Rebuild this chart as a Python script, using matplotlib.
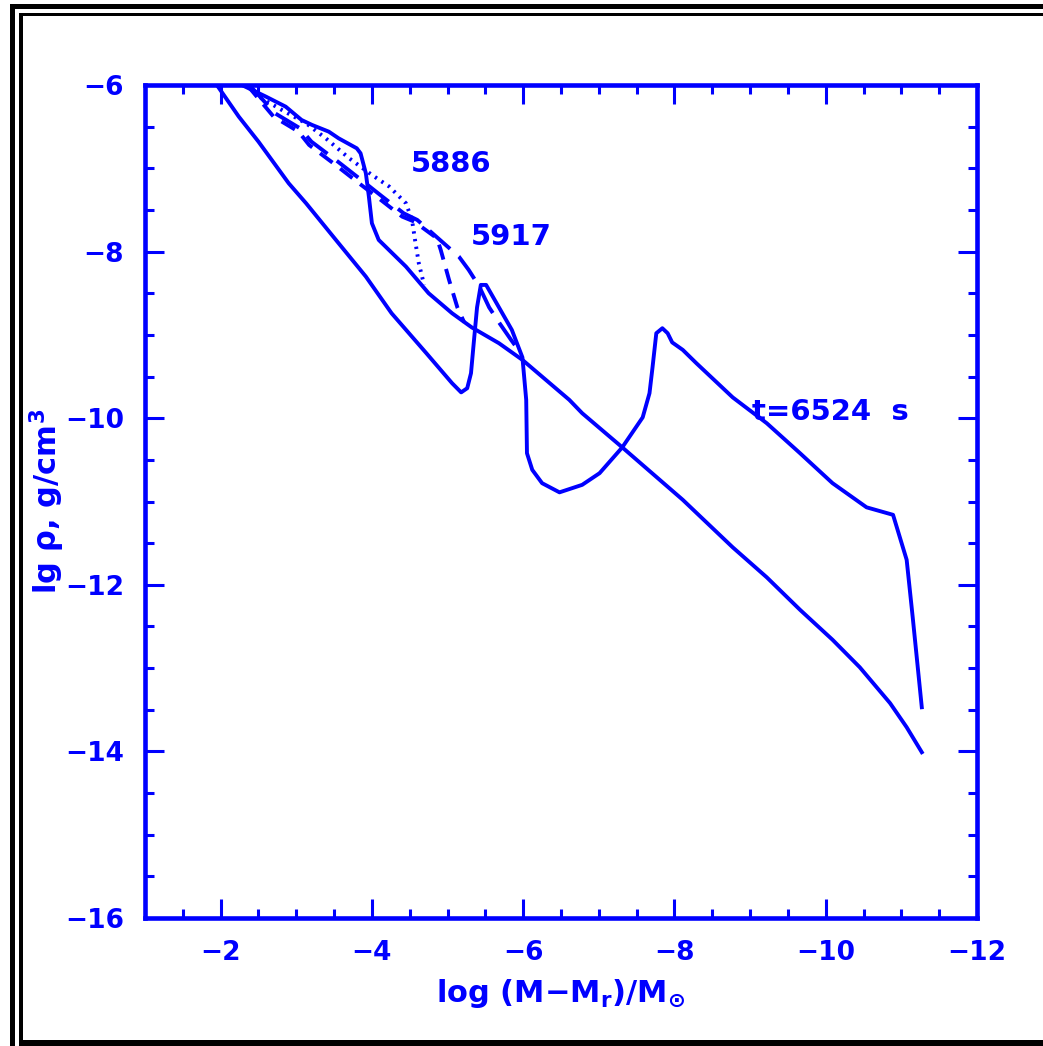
import matplotlib
matplotlib.use("Agg")
import matplotlib.pyplot as plt
from matplotlib.patches import Rectangle
from matplotlib.ticker import MultipleLocator

# colour / font
blue = (0, 0, 1)
plt.rcParams['font.family'] = 'DejaVu Sans'
plt.rcParams['font.weight'] = 'bold'
plt.rcParams['mathtext.default'] = 'bf'

# upper solid profile (bump near -4, then long straight fall)
s1_x = [-2.28, -2.60, -2.86, -3.07, -3.21, -3.43, -3.56, -3.80, -3.85, -3.92, -3.96, -4.00,
        -4.09, -4.45, -4.75, -5.06, -5.32, -5.68, -5.99, -6.61, -6.78, -7.31, -8.11, -8.77,
        -9.22, -9.66, -10.09, -10.45, -10.85, -11.07, -11.27]
s1_y = [-6.00, -6.14, -6.26, -6.42, -6.48, -6.56, -6.64, -6.76, -6.82, -7.06, -7.34, -7.66,
        -7.86, -8.18, -8.50, -8.74, -8.91, -9.10, -9.30, -9.78, -9.94, -10.35, -10.98, -11.55,
        -11.91, -12.30, -12.66, -12.99, -13.42, -13.71, -14.01]

# t = 6524 s profile
s2_x = [-1.95, -2.24, -2.50, -2.90, -3.13, -3.56, -3.92, -4.26, -4.72, -5.06, -5.18, -5.26,
        -5.31, -5.35, -5.39, -5.44, -5.51, -5.68, -5.85, -5.99, -6.04, -6.05, -6.12, -6.25,
        -6.48, -6.78, -7.01, -7.31, -7.58, -7.67, -7.71, -7.76, -7.84, -7.91, -7.97, -8.11,
        -8.29, -8.77, -9.22, -9.66, -10.09, -10.54, -10.89, -11.07, -11.15, -11.27]
s2_y = [-6.00, -6.38, -6.68, -7.18, -7.42, -7.90, -8.30, -8.74, -9.22, -9.58, -9.69, -9.64,
        -9.46, -9.06, -8.67, -8.40, -8.40, -8.67, -8.94, -9.27, -9.78, -10.42, -10.62, -10.78,
        -10.89, -10.80, -10.66, -10.35, -9.99, -9.70, -9.39, -8.98, -8.92, -8.98, -9.09, -9.18,
        -9.34, -9.75, -10.06, -10.42, -10.78, -11.07, -11.16, -11.70, -12.39, -13.47]

# 5886 (dotted)
dot_x = [-2.40, -2.54, -2.81, -3.13, -3.39, -3.70, -4.00, -4.23, -4.45, -4.53, -4.57, -4.62, -4.69]
dot_y = [-6.00, -6.16, -6.30, -6.46, -6.64, -6.88, -7.08, -7.22, -7.42, -7.62, -7.86, -8.14, -8.40]

# short dashes
d1_x = [-2.35, -2.70, -3.03, -3.17, -3.52, -3.83, -4.09, -4.40, -4.56, -4.86, -4.91, -5.02, -5.13, -5.22]
d1_y = [-6.00, -6.38, -6.56, -6.72, -6.96, -7.18, -7.36, -7.58, -7.64, -7.84, -7.98, -8.34, -8.67, -8.85]

# 5917 (long dashes)
d2_x = [-2.38, -2.72, -3.05, -3.20, -3.55, -3.86, -4.11, -4.42, -4.60, -4.95, -5.15, -5.28,
        -5.42, -5.55, -5.68, -5.84, -5.92]
d2_y = [-6.00, -6.34, -6.52, -6.68, -6.92, -7.14, -7.32, -7.54, -7.62, -7.90, -8.06, -8.22,
        -8.42, -8.67, -8.85, -9.06, -9.16]

W, H = 1043, 1046
fig = plt.figure(figsize=(W / 100, H / 100), dpi=100)
fig.patch.set_facecolor('white')

# double black frame (pixel coords, top-down)
def frame(x0, y0, x1, y1):
    fig.add_artist(Rectangle((x0 / W, 1 - y1 / H), (x1 - x0) / W, (y1 - y0) / H,
                             transform=fig.transFigure, color='black', lw=0))

frame(10, 4, W, 9)
frame(10, 4, 15, H)
frame(19, 13, W, 16)
frame(19, 13, 23, 1043)
frame(19, 1040, W, H)

ax = fig.add_axes([145 / W, 1 - 918 / H, (977 - 145) / W, (918 - 85) / H])

lw = 2.8
ax.plot(s2_x, s2_y, color=blue, lw=lw)
ax.plot(s1_x, s1_y, color=blue, lw=lw)
ax.plot(dot_x, dot_y, color=blue, lw=lw, linestyle=(0, (0.6, 1.4)))
ax.plot(d1_x, d1_y, color=blue, lw=lw, linestyle=(0, (4, 2.5)))
ax.plot(d2_x, d2_y, color=blue, lw=lw, linestyle=(0, (7, 3)))

ax.text(-4.52, -7.04, '5886', color=blue, fontsize=21, ha='left', va='baseline')
ax.text(-5.31, -7.92, '5917', color=blue, fontsize=21, ha='left', va='baseline')
ax.text(-9.02, -10.02, 't=6524  s', color=blue, fontsize=21, ha='left', va='baseline')

ax.set_xlim(-1, -12)
ax.set_ylim(-16, -6)
ax.xaxis.set_major_locator(MultipleLocator(2))
ax.xaxis.set_minor_locator(MultipleLocator(0.5))
ax.yaxis.set_major_locator(MultipleLocator(2))
ax.yaxis.set_minor_locator(MultipleLocator(0.5))

for s in ax.spines.values():
    s.set_color(blue)
    s.set_linewidth(3.3)
ax.tick_params(which='both', direction='in', top=True, right=True, colors=blue,
               labelsize=19, width=2.2)
ax.tick_params(which='major', length=14)
ax.tick_params(which='minor', length=6.5)
ax.tick_params(axis='x', pad=16)
ax.tick_params(axis='y', pad=15)

ax.set_xlabel(r'$\mathbf{log\ (M{-}M_r)/M_{\odot}}$', color=blue, fontsize=22, labelpad=8)
ax.text(-0.118, 0.5, r'lg $\rho$, g/cm$^3$', color=blue, fontsize=22, rotation=90,
        ha='center', va='center', transform=ax.transAxes)

fig.savefig('out.png', dpi=100, facecolor='white')
